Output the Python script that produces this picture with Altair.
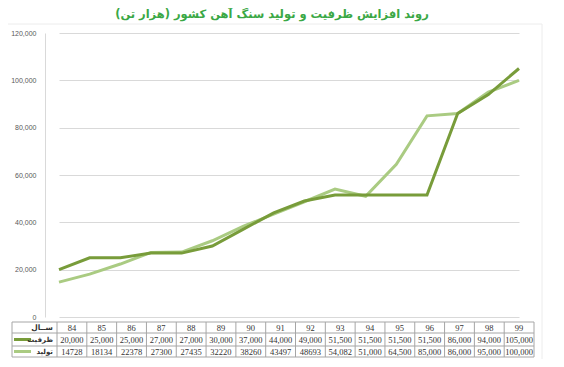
import altair as alt
import pandas as pd

years = ["84", "85", "86", "87", "88", "89", "90", "91", "92", "93", "94", "95", "96", "97", "98", "99"]
capacity = [20000, 25000, 25000, 27000, 27000, 30000, 37000, 44000, 49000, 51500, 51500, 51500, 51500, 86000, 94000, 105000]
production = [14728, 18134, 22378, 27300, 27435, 32220, 38260, 43497, 48693, 54082, 51000, 64500, 85000, 86000, 95000, 100000]
series_names = ["ظرفیت", "تولید"]
series_colors = ["#789c3a", "#aacb82"]
title_text = "روند افزایش ظرفیت و تولید سنگ آهن کشور (هزار تن)"
header_label = "ســال"
y_ticks = [0, 20000, 40000, 60000, 80000, 100000, 120000]

cap_labels = [f"{v:,}" for v in capacity]
prod_labels = [str(v) if int(y) <= 92 else f"{v:,}" for y, v in zip(years, production)]

cap_df = pd.DataFrame({"year": years, "value": capacity, "label": cap_labels, "series": series_names[0]})
prod_df = pd.DataFrame({"year": years, "value": production, "label": prod_labels, "series": series_names[1]})
year_df = pd.DataFrame({"year": years})

FONT_FA = "DejaVu Sans"
FONT_NUM = "Liberation Serif"
GRID = "#d9d9d9"
BORDER = "#a6a6a6"

x_line = alt.X("year:N", sort=years,
               scale=alt.Scale(type="point", domain=years, range=[14, 474], padding=0),
               axis=None)
y_line = alt.Y("value:Q", scale=alt.Scale(domain=[0, 120000], nice=False),
               axis=alt.Axis(values=y_ticks, format=",.0f", title=None, labelFontSize=7,
                             labelFont="Liberation Sans", labelColor="#595959",
                             tickSize=0, labelPadding=9, gridColor=GRID,
                             domainColor=GRID, grid=True))
color_enc = alt.Color("series:N", scale=alt.Scale(domain=series_names, range=series_colors), legend=None)

prod_line = alt.Chart(prod_df).mark_line(strokeWidth=3).encode(x=x_line, y=y_line, color=color_enc)
cap_line = alt.Chart(cap_df).mark_line(strokeWidth=3).encode(x=x_line, y="value:Q", color=color_enc)

tbl_scale = alt.Scale(type="band", domain=years, range=[12, 489], paddingInner=0, paddingOuter=0)
x_tbl = alt.X("year:N", sort=years, scale=tbl_scale, axis=None)

ROW_TOP, ROW1, ROW2, ROW_BOT = 289, 300, 313, 324
C0, C1, C2 = 294.5, 306.5, 318.5

def txt(df, field, yc):
    return alt.Chart(df).mark_text(font=FONT_NUM, fontSize=8.5, color="#333333", baseline="middle").encode(
        x=x_tbl, y=alt.value(yc), text=f"{field}:N")

year_txt = txt(year_df, "year", C0)
cap_txt = txt(cap_df, "label", C1)
prod_txt = txt(prod_df, "label", C2)

vlines = alt.Chart(year_df).mark_rule(color=BORDER, strokeWidth=1).encode(
    x=alt.X("year:N", sort=years, scale=tbl_scale, axis=None, bandPosition=0),
    y=alt.value(ROW_TOP), y2=alt.value(ROW_BOT))

frame = alt.Chart(year_df.head(1)).mark_rect(fill=None, stroke=BORDER, strokeWidth=1).encode(
    x=alt.value(-33), x2=alt.value(489), y=alt.value(ROW_TOP), y2=alt.value(ROW_BOT))
h1 = alt.Chart(year_df.head(1)).mark_rule(color=BORDER).encode(
    x=alt.value(-33), x2=alt.value(489), y=alt.value(ROW1))
h2 = alt.Chart(year_df.head(1)).mark_rule(color=BORDER).encode(
    x=alt.value(-33), x2=alt.value(489), y=alt.value(ROW2))

hdr = alt.Chart(pd.DataFrame({"t": [header_label]})).mark_text(
    font=FONT_FA, fontSize=7.5, fontWeight="bold", color="#333333", align="right", baseline="middle").encode(
    x=alt.value(8), y=alt.value(C0), text="t:N")

legend_layers = []
for name, col, yc in zip(series_names, series_colors, [C1, C2]):
    d = pd.DataFrame({"series": [name]})
    legend_layers.append(alt.Chart(d).mark_rule(strokeWidth=3, color=col).encode(
        x=alt.value(-31), x2=alt.value(-14), y=alt.value(yc)))
    legend_layers.append(alt.Chart(d).mark_text(
        font=FONT_FA, fontSize=7, fontWeight="bold", color="#333333", align="right", baseline="middle").encode(
        x=alt.value(8), y=alt.value(yc), text="series:N"))

title = alt.Chart(pd.DataFrame({"t": [title_text]})).mark_text(
    font=FONT_FA, fontSize=11.5, fontWeight="bold", color="#3aa845", align="center", baseline="middle").encode(
    x=alt.value(227), y=alt.value(-18), text="t:N")

top_border = alt.Chart(year_df.head(1)).mark_rule(color="#ececec").encode(
    x=alt.value(-37), x2=alt.value(497), y=alt.value(-9))
right_border = alt.Chart(year_df.head(1)).mark_rule(color="#ececec").encode(
    x=alt.value(497), y=alt.value(-9), y2=alt.value(330))

chart = alt.layer(
    prod_line, top_border, right_border, cap_line, frame, h1, h2, vlines,
    year_txt, cap_txt, prod_txt, hdr, *legend_layers, title
).resolve_scale(x="independent").properties(
    width=488, height=284,
    autosize=alt.AutoSizeParams(type="none"),
    padding={"left": 37, "top": 25, "right": 23, "bottom": 42},
    background="white",
).configure_view(stroke=None)

chart.save("out.html", embed_options={"renderer": "svg", "actions": False})
